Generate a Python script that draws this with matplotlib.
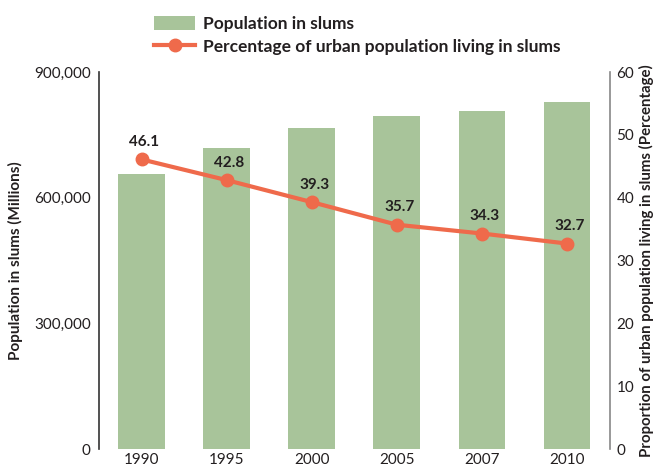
import matplotlib
matplotlib.use("Agg")
import matplotlib.pyplot as plt
from matplotlib.lines import Line2D
from matplotlib.patches import Patch

years = ["1990", "1995", "2000", "2005", "2007", "2010"]
slum_population = [656739, 718114, 766762, 795739, 806910, 827690]
slum_percentage = [46.1, 42.8, 39.3, 35.7, 34.3, 32.7]
left_ticks = [0, 300000, 600000, 900000]
right_ticks = [0, 10, 20, 30, 40, 50, 60]

bar_color = "#a8c49a"
line_color = "#ef6a4b"
text_color = "#231f20"
font = ["Lato", "DejaVu Sans"]
plt.rcParams["font.family"] = font

fig = plt.figure(figsize=(6.58, 4.71), dpi=100)
ax = fig.add_axes([0.1505, 0.0467, 0.776, 0.8003])
x = list(range(len(years)))
ax.bar(x, slum_population, width=0.55, color=bar_color, zorder=1)
ax.set_xlim(-0.5, 5.5)
ax.set_ylim(0, 900000)
ax.set_yticks(left_ticks)
ax.set_yticklabels([f"{v:,}" for v in left_ticks])
ax.set_xticks(x)
ax.set_xticklabels(years)
ax.tick_params(axis="both", length=0, labelsize=11, colors=text_color, pad=6)
ax.tick_params(axis="x", pad=3)
for s in ["top", "right", "bottom"]:
    ax.spines[s].set_visible(False)
ax.spines["left"].set_color("#333333")
ax.spines["left"].set_linewidth(1.2)
ax.set_ylabel("Population in slums (Millions)", fontsize=11, fontweight="bold",
              color=text_color, labelpad=8)

ax2 = ax.twinx()
ax2.set_ylim(0, 60)
ax2.set_yticks(right_ticks)
ax2.plot(x, slum_percentage, color=line_color, linewidth=3, marker="o",
         markersize=9, zorder=3)
for xi, v in zip(x, slum_percentage):
    ax2.annotate(f"{v}", (xi, v), xytext=(2, 7.5), textcoords="offset points",
                 ha="center", va="bottom", fontsize=11, fontweight="bold",
                 color=text_color)
for s in ["top", "left", "bottom"]:
    ax2.spines[s].set_visible(False)
ax2.spines["right"].set_color("#888888")
ax2.spines["right"].set_linewidth(1.2)
ax2.tick_params(axis="y", length=0, labelsize=11, colors=text_color, pad=5)
ax2.set_ylabel("Proportion of urban population living in slums (Percentage)",
               fontsize=10.8, fontweight="bold", color=text_color, labelpad=3)

handles = [Patch(facecolor=bar_color, edgecolor="none"),
           Line2D([], [], color=line_color, linewidth=3, marker="o", markersize=9)]
labels = ["Population in slums", "Percentage of urban population living in slums"]
leg = fig.legend(handles, labels, loc="upper left", bbox_to_anchor=(0.21, 1.0),
                 frameon=False, prop={"family": font, "weight": "bold", "size": 12.5},
                 handlelength=2.4, handleheight=0.9, labelspacing=0.4, handletextpad=0.45)
for t in leg.get_texts():
    t.set_color(text_color)

fig.savefig("out.png", dpi=100)
